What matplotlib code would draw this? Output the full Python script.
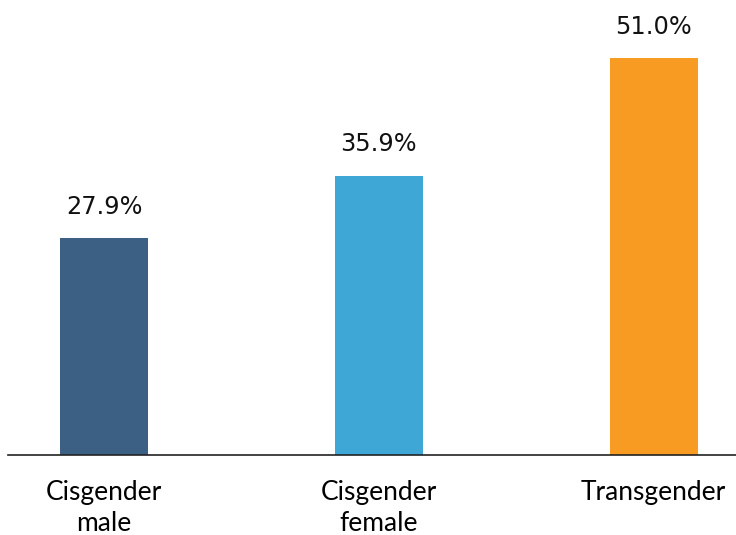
import matplotlib.pyplot as plt

# 数据
categories = ['Cisgender\nmale', 'Cisgender\nfemale', 'Transgender']
values = [27.9, 35.9, 51.0]
colors = ['#3b6083', '#3ea7d6', '#f79b22']

fig = plt.figure(figsize=(7.36, 5.35), dpi=100)
ax = fig.add_axes([8 / 736, 80 / 535, 728 / 736, 455 / 535])

x = range(len(values))
ax.bar(x, values, width=0.32, color=colors, zorder=2)

for xi, v in zip(x, values):
    ax.annotate(f'{v:.1f}%', (xi, v), xytext=(0, 14), textcoords='offset points',
                ha='center', va='bottom', fontsize=17.3, family='DejaVu Sans', color='#111111')

ax.set_xlim(-0.35, 2.30)
ax.set_ylim(0, 58.5)
for s in ['top', 'right', 'left']:
    ax.spines[s].set_visible(False)
ax.spines['bottom'].set_color('#222222')
ax.spines['bottom'].set_linewidth(1.2)
ax.set_yticks([])
ax.set_xticks(list(x))
ax.set_xticklabels(categories, fontsize=19, family='Lato', linespacing=1.3)
ax.tick_params(axis='x', length=0, pad=18)

plt.savefig('out.png', dpi=100)
